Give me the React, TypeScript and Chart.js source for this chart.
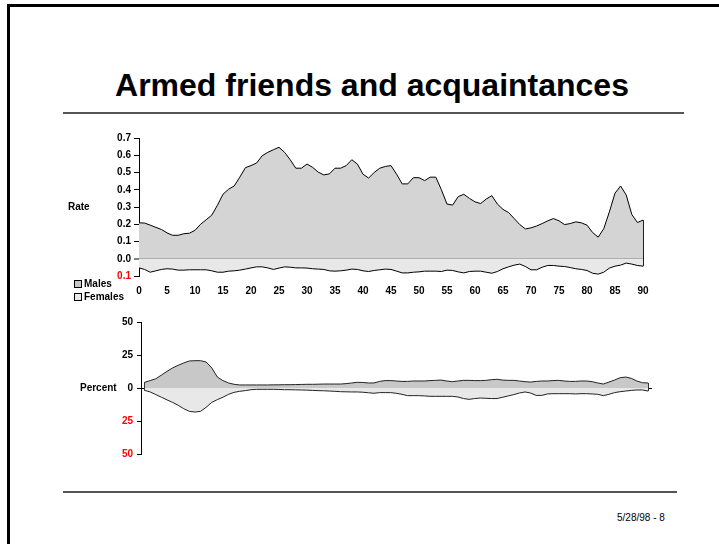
import React, { useEffect, useRef } from "react";
import { Chart, registerables } from "chart.js";

Chart.register(...registerables);

const FONT = "'Liberation Sans', Arial, Helvetica, sans-serif";

// Ages 0..90 (one point per year of age)
const ages: number[] = Array.from({ length: 91 }, (_, i) => i);

// Rate of armed friends and acquaintances, by age
const maleRate: number[] = [
  0.208, 0.207, 0.195, 0.182, 0.17, 0.15, 0.136, 0.136, 0.145, 0.148,
  0.165, 0.2, 0.226, 0.253, 0.31, 0.374, 0.403, 0.422, 0.473, 0.528,
  0.54, 0.555, 0.597, 0.617, 0.632, 0.646, 0.617, 0.574, 0.525, 0.525,
  0.549, 0.53, 0.502, 0.486, 0.492, 0.525, 0.525, 0.54, 0.574, 0.549,
  0.49, 0.468, 0.5, 0.525, 0.535, 0.54, 0.49, 0.434, 0.434, 0.47,
  0.47, 0.453, 0.473, 0.473, 0.4, 0.317, 0.311, 0.36, 0.374, 0.35,
  0.33, 0.32, 0.346, 0.366, 0.317, 0.286, 0.268, 0.233, 0.198, 0.173,
  0.179, 0.19, 0.204, 0.22, 0.233, 0.22, 0.198, 0.204, 0.214, 0.208,
  0.195, 0.152, 0.125, 0.175, 0.272, 0.38, 0.422, 0.37, 0.257, 0.21,
  0.224,
];

const femaleRate: number[] = [
  0.053, 0.062, 0.078, 0.07, 0.062, 0.058, 0.06, 0.066, 0.066, 0.064,
  0.064, 0.064, 0.064, 0.07, 0.078, 0.078, 0.072, 0.07, 0.066, 0.06,
  0.053, 0.047, 0.047, 0.053, 0.062, 0.054, 0.047, 0.049, 0.053, 0.053,
  0.054, 0.058, 0.06, 0.062, 0.07, 0.072, 0.07, 0.066, 0.06, 0.062,
  0.07, 0.074, 0.068, 0.064, 0.06, 0.062, 0.072, 0.082, 0.082, 0.078,
  0.076, 0.072, 0.072, 0.072, 0.074, 0.066, 0.068, 0.076, 0.082, 0.074,
  0.072, 0.072, 0.078, 0.084, 0.074, 0.058, 0.047, 0.037, 0.031, 0.045,
  0.064, 0.064, 0.049, 0.039, 0.039, 0.043, 0.045, 0.051, 0.058, 0.062,
  0.068, 0.084, 0.089, 0.078, 0.054, 0.043, 0.037, 0.025, 0.031, 0.039,
  0.043,
];

// Percent of cases at each age
const malePercent: number[] = [
  4.3, 5.6, 7, 9.8, 12.6, 15.2, 17.2, 19, 20.5, 20.7,
  20.7, 19.7, 15.2, 8.3, 5.6, 3.8, 2.8, 2.3, 2.3, 2.3,
  2.3, 2.3, 2.3, 2.4, 2.4, 2.5, 2.5, 2.6, 2.7, 2.8,
  2.8, 2.9, 3, 3, 3, 3, 3.3, 3.8, 4.3, 4.2,
  3.8, 3.8, 5, 5.6, 5.6, 5.3, 5, 5, 5.3, 5.3,
  5.3, 5.6, 5.8, 6, 5.3, 4.8, 5.3, 5.8, 5.8, 5.6,
  5.6, 5.8, 6.3, 6.6, 6, 5.8, 5.8, 5.3, 4.8, 4.5,
  5, 5.3, 5.3, 5.6, 5.8, 5.3, 5, 5, 5.3, 5.3,
  4.8, 3.8, 3, 4.5, 6, 7.8, 8.3, 7.3, 5.3, 4,
  3.8,
];

const femalePercent: number[] = [
  1.8, 3, 5, 7, 9, 10.9, 13.1, 15.7, 17.7, 18.2,
  17.7, 14.6, 10.9, 8.8, 7, 4.8, 3.3, 2.5, 2, 1.3,
  1, 1, 1, 1, 1.1, 1.3, 1.3, 1.4, 1.5, 1.6,
  1.8, 2, 2.1, 2.3, 2.5, 2.8, 2.9, 3, 3, 3.2,
  3.6, 4, 3.5, 3.5, 3.5, 4, 4.8, 5.8, 5.8, 5.8,
  6, 6.3, 6.3, 6.3, 6.3, 6.3, 6.8, 8, 8.6, 8,
  7.6, 7.8, 8, 8, 7, 6, 5, 3.8, 3, 3.8,
  5.6, 5.6, 4.5, 4.3, 4.3, 4.3, 4.3, 4.5, 4.3, 4.3,
  4.5, 4.8, 5.8, 4.8, 3.5, 2.8, 2.3, 1.8, 1.5, 1.5,
  2.3,
];

const rateTicks = { min: -0.1, max: 0.7, step: 0.1 };
const percentTicks = { min: -50, max: 50, step: 25 };

const MALE_FILL = "#d4d4d4";
const FEMALE_FILL = "#e8e8e8";
const MALE_FILL_PCT = "#c8c8c8";

const tickFont = { family: FONT, size: 10, weight: "bold" as const };
const isZero = (v: number) => Math.abs(v) < 1e-9;

const series = (vals: number[], sign: number) =>
  ages.map((a, i) => ({ x: a, y: sign * vals[i] }));

const edge = (i: number, up: number[], down: number[]) => [
  { x: ages[i], y: up[i] },
  { x: ages[i], y: -down[i] },
];

function RateChart() {
  const ref = useRef<HTMLCanvasElement | null>(null);
  useEffect(() => {
    if (!ref.current) return;
    const last = ages.length - 1;
    const chart = new Chart(ref.current, {
      type: "line",
      data: {
        datasets: [
          {
            label: "Males",
            data: series(maleRate, 1),
            fill: "origin",
            backgroundColor: MALE_FILL,
            borderColor: "#000",
            borderWidth: 1,
            pointRadius: 0,
            tension: 0,
            clip: 4,
          },
          {
            label: "Females",
            data: series(femaleRate, -1),
            fill: "origin",
            backgroundColor: FEMALE_FILL,
            borderColor: "#000",
            borderWidth: 1,
            pointRadius: 0,
            tension: 0,
            clip: 4,
          },
          {
            label: "end",
            data: edge(last, maleRate, femaleRate),
            fill: false,
            borderColor: "#000",
            borderWidth: 1,
            pointRadius: 0,
            clip: 4,
          },
        ],
      },
      options: {
        responsive: false,
        animation: false,
        events: [],
        layout: { padding: { left: 99, right: 76, top: 138, bottom: 238 } },
        plugins: { legend: { display: false }, tooltip: { enabled: false } },
        scales: {
          x: {
            type: "linear",
            min: 0,
            max: 90,
            ticks: {
              stepSize: 5,
              autoSkip: false,
              maxRotation: 0,
              padding: 9,
              color: "#000",
              font: tickFont,
            },
            grid: { display: false, drawTicks: false },
            border: { display: false },
            afterFit: (s: any) => {
              s.height = 30;
            },
          },
          y: {
            min: rateTicks.min,
            max: rateTicks.max,
            z: 1,
            ticks: {
              stepSize: rateTicks.step,
              padding: 3,
              font: tickFont,
              color: (c: any) => (c.tick.value < -1e-9 ? "#ff0000" : "#000"),
              callback: (v: any) => Math.abs(Number(v)).toFixed(1),
            },
            grid: {
              drawOnChartArea: true,
              color: (c: any) => (isZero(c.tick.value) ? "#000" : "rgba(0,0,0,0)"),
              lineWidth: (c: any) => (isZero(c.tick.value) ? 2 : 1),
              tickColor: "#000",
              tickLength: 5,
              tickWidth: 1,
            },
            border: { display: true, color: "#000", width: 1 },
            afterFit: (s: any) => {
              s.width = 40;
            },
          },
        },
      },
    } as any);
    return () => chart.destroy();
  }, []);
  return (
    <canvas
      ref={ref}
      width={719}
      height={544}
      style={{ position: "absolute", left: 0, top: 0, width: 719, height: 544 }}
    />
  );
}

function PercentChart() {
  const ref = useRef<HTMLCanvasElement | null>(null);
  useEffect(() => {
    if (!ref.current) return;
    const last = ages.length - 1;
    const chart = new Chart(ref.current, {
      type: "line",
      data: {
        datasets: [
          {
            label: "Males",
            data: series(malePercent, 1),
            fill: "origin",
            backgroundColor: MALE_FILL_PCT,
            borderColor: "#222",
            borderWidth: 1,
            pointRadius: 0,
            tension: 0,
            clip: 4,
          },
          {
            label: "Females",
            data: series(femalePercent, -1),
            fill: "origin",
            backgroundColor: FEMALE_FILL,
            borderColor: "#222",
            borderWidth: 1,
            pointRadius: 0,
            tension: 0,
            clip: 4,
          },
          {
            label: "start",
            data: edge(0, malePercent, femalePercent),
            fill: false,
            borderColor: "#222",
            borderWidth: 1,
            pointRadius: 0,
            clip: 4,
          },
          {
            label: "end",
            data: edge(last, malePercent, femalePercent),
            fill: false,
            borderColor: "#222",
            borderWidth: 1,
            pointRadius: 0,
            clip: 4,
          },
        ],
      },
      options: {
        responsive: false,
        animation: false,
        events: [],
        layout: { padding: { left: 101, right: 67, top: 322, bottom: 90 } },
        plugins: { legend: { display: false }, tooltip: { enabled: false } },
        scales: {
          x: { type: "linear", min: -0.65, max: 90.7, display: false },
          y: {
            min: percentTicks.min,
            max: percentTicks.max,
            z: 1,
            ticks: {
              stepSize: percentTicks.step,
              padding: 4,
              font: tickFont,
              color: (c: any) => (c.tick.value < 0 ? "#ff0000" : "#000"),
              callback: (v: any) => String(Math.abs(Number(v))),
            },
            grid: {
              drawOnChartArea: true,
              color: (c: any) => (isZero(c.tick.value) ? "#000" : "rgba(0,0,0,0)"),
              lineWidth: 1,
              tickColor: "#000",
              tickLength: 4,
              tickWidth: 1,
            },
            border: { display: true, color: "#000", width: 1 },
            afterFit: (s: any) => {
              s.width = 40;
            },
          },
        },
      },
    } as any);
    return () => chart.destroy();
  }, []);
  return (
    <canvas
      ref={ref}
      width={719}
      height={544}
      style={{ position: "absolute", left: 0, top: 0, width: 719, height: 544 }}
    />
  );
}

const text = (
  left: number,
  top: number,
  content: string,
  size: number,
  bold: boolean,
  extra: React.CSSProperties = {}
) => (
  <div
    style={{
      position: "absolute",
      left,
      top,
      fontFamily: FONT,
      fontSize: size,
      fontWeight: bold ? "bold" : "normal",
      lineHeight: `${size + 2}px`,
      whiteSpace: "nowrap",
      color: "#000",
      ...extra,
    }}
  >
    {content}
  </div>
);

const swatch = (left: number, top: number, fill: string) => (
  <div
    style={{
      position: "absolute",
      left,
      top,
      width: 6,
      height: 6,
      border: "1px solid #000",
      background: fill,
    }}
  />
);

export default function App() {
  return (
    <div
      style={{
        position: "absolute",
        left: 0,
        top: 0,
        width: 719,
        height: 544,
        background: "#fff",
        overflow: "hidden",
      }}
    >
      {/* page frame */}
      <div style={{ position: "absolute", left: 7, top: 4, width: 712, height: 3, background: "#000" }} />
      <div style={{ position: "absolute", left: 7, top: 4, width: 3, height: 540, background: "#000" }} />

      {/* title and rules */}
      <div
        style={{
          position: "absolute",
          left: 0,
          width: 744,
          top: 69,
          textAlign: "center",
          fontFamily: FONT,
          fontWeight: "bold",
          fontSize: 32,
          lineHeight: "32px",
          color: "#000",
        }}
      >
        Armed friends and acquaintances
      </div>
      <div style={{ position: "absolute", left: 63, top: 112, width: 621, height: 2, background: "#555" }} />
      <div style={{ position: "absolute", left: 63, top: 491, width: 614, height: 2, background: "#555" }} />
      {text(617, 512, "5/28/98 - 8", 10, false)}

      <RateChart />
      <PercentChart />

      {text(68, 201, "Rate", 10, true)}
      {text(80, 382, "Percent", 10, true)}

      {swatch(74, 280, MALE_FILL_PCT)}
      {text(84, 278, "Males", 10, true)}
      {swatch(74, 293, FEMALE_FILL)}
      {text(84, 291, "Females", 10, true)}
    </div>
  );
}
